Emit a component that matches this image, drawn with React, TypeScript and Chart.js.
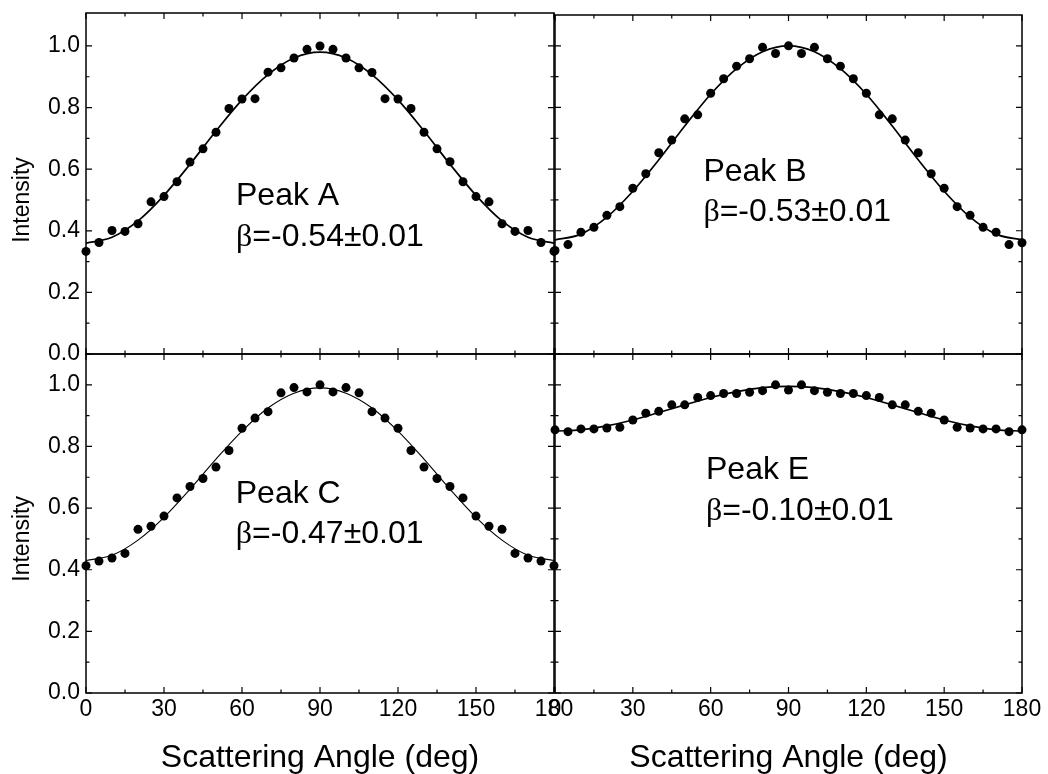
import React, { useEffect, useRef } from "react";
import { Chart, registerables } from "chart.js";

Chart.register(...registerables);

// ---------- data ----------
const ANGLES = [0, 5, 10, 15, 20, 25, 30, 35, 40, 45, 50, 55, 60, 65, 70, 75, 80, 85, 90,
  95, 100, 105, 110, 115, 120, 125, 130, 135, 140, 145, 150, 155, 160, 165, 170, 175, 180];
const FIT_ANGLES = [0, 10, 20, 30, 40, 50, 60, 70, 80, 90, 100, 110, 120, 130, 140, 150, 160, 170, 180];

const PEAK_A = [0.333, 0.362, 0.401, 0.398, 0.423, 0.494, 0.511, 0.559, 0.623, 0.666, 0.720, 0.797, 0.828,
  0.829, 0.915, 0.929, 0.961, 0.989, 1.0, 0.989, 0.961, 0.929, 0.914, 0.829, 0.828, 0.797, 0.720, 0.666,
  0.624, 0.559, 0.511, 0.494, 0.423, 0.398, 0.401, 0.362, 0.333];
const FIT_A = [0.36, 0.379, 0.432, 0.515, 0.616, 0.724, 0.825, 0.907, 0.961, 0.98, 0.961, 0.907, 0.825,
  0.724, 0.616, 0.515, 0.432, 0.379, 0.36];

const PEAK_B = [0.336, 0.355, 0.395, 0.411, 0.450, 0.478, 0.538, 0.585, 0.653, 0.694, 0.763, 0.776, 0.846,
  0.893, 0.934, 0.958, 0.995, 0.975, 1.0, 0.975, 0.995, 0.958, 0.934, 0.893, 0.846, 0.776, 0.763, 0.694,
  0.653, 0.585, 0.538, 0.478, 0.450, 0.411, 0.395, 0.355, 0.361];
const FIT_B = [0.37, 0.389, 0.444, 0.528, 0.630, 0.740, 0.843, 0.926, 0.981, 1.0, 0.981, 0.926, 0.843,
  0.740, 0.630, 0.528, 0.444, 0.389, 0.37];

const PEAK_C = [0.413, 0.428, 0.438, 0.453, 0.531, 0.541, 0.574, 0.633, 0.670, 0.696, 0.733, 0.787, 0.859,
  0.892, 0.913, 0.974, 0.991, 0.977, 1.0, 0.977, 0.991, 0.974, 0.913, 0.892, 0.859, 0.787, 0.733, 0.696,
  0.670, 0.633, 0.574, 0.541, 0.531, 0.453, 0.438, 0.428, 0.413];
const FIT_C = [0.43, 0.447, 0.496, 0.570, 0.661, 0.759, 0.850, 0.925, 0.973, 0.99, 0.973, 0.925, 0.850,
  0.759, 0.661, 0.570, 0.496, 0.447, 0.43];

const PEAK_E = [0.854, 0.848, 0.857, 0.857, 0.860, 0.862, 0.886, 0.908, 0.914, 0.935, 0.935, 0.959, 0.965,
  0.972, 0.972, 0.976, 0.981, 1.0, 0.983, 1.0, 0.981, 0.976, 0.972, 0.972, 0.965, 0.959, 0.935, 0.935,
  0.914, 0.908, 0.886, 0.862, 0.860, 0.857, 0.857, 0.848, 0.854];
const FIT_E = [0.85, 0.854, 0.867, 0.886, 0.910, 0.935, 0.959, 0.978, 0.991, 0.995, 0.991, 0.978, 0.959,
  0.935, 0.910, 0.886, 0.867, 0.854, 0.85];

const X_MAJOR = [0, 30, 60, 90, 120, 150, 180];
const X_MINOR = [15, 45, 75, 105, 135, 165];
const Y_MAJOR = [0, 0.2, 0.4, 0.6, 0.8, 1.0];
const Y_MINOR = [0.1, 0.3, 0.5, 0.7, 0.9];

const PEAK_NAMES = ["Peak A", "Peak B", "Peak C", "Peak E"];
const BETA_TEXTS = ["=-0.54\u00b10.01", "=-0.53\u00b10.01", "=-0.47\u00b10.01", "=-0.10\u00b10.01"];

const X_TITLE = "Scattering Angle (deg)";
const Y_TITLE = "Intensity";

// ---------- layout ----------
const W = 1048;
const H = 774;
const SANS = '"Liberation Sans", Arial, Helvetica, sans-serif';
const SERIF = '"Liberation Serif", "DejaVu Serif", serif';

type Panel = {
  points: number[];
  fit: number[];
  name: string;
  beta: string;
  area: { left: number; top: number; right: number; bottom: number };
  yMax: number;
  showY: boolean;
  showX: boolean;
  fitWidth: number;
  label: { x: number; y1: number; y2: number };
};

const PANELS: Panel[] = [
  {
    points: PEAK_A, fit: FIT_A, name: PEAK_NAMES[0], beta: BETA_TEXTS[0],
    area: { left: 86, top: 13, right: 554, bottom: 354 }, yMax: 1.107,
    showY: true, showX: false, fitWidth: 1.7, label: { x: 57.7, y1: 0.485, y2: 0.352 },
  },
  {
    points: PEAK_B, fit: FIT_B, name: PEAK_NAMES[1], beta: BETA_TEXTS[1],
    area: { left: 555, top: 15, right: 1022, bottom: 354 }, yMax: 1.1,
    showY: false, showX: false, fitWidth: 1.7, label: { x: 57.2, y1: 0.56, y2: 0.43 },
  },
  {
    points: PEAK_C, fit: FIT_C, name: PEAK_NAMES[2], beta: BETA_TEXTS[2],
    area: { left: 86, top: 354, right: 554, bottom: 693 }, yMax: 1.1,
    showY: true, showX: true, fitWidth: 1.1, label: { x: 57.6, y1: 0.616, y2: 0.487 },
  },
  {
    points: PEAK_E, fit: FIT_E, name: PEAK_NAMES[3], beta: BETA_TEXTS[3],
    area: { left: 555, top: 354, right: 1022, bottom: 693 }, yMax: 1.1,
    showY: false, showX: true, fitWidth: 1.7, label: { x: 58.2, y1: 0.694, y2: 0.561 },
  },
];

function makePlugin(p: Panel) {
  return {
    id: "frameAndText",
    beforeDatasetsDraw(chart: any) {
      const { ctx, chartArea: a, scales } = chart;
      const xs = scales.x;
      const ys = scales.y;
      ctx.save();
      ctx.strokeStyle = "#000";
      ctx.lineWidth = 1.5;
      ctx.strokeRect(a.left, a.top, a.right - a.left, a.bottom - a.top);
      ctx.lineWidth = 1.2;
      ctx.beginPath();
      const xt = (vals: number[], len: number) => {
        for (const v of vals) {
          const px = xs.getPixelForValue(v);
          ctx.moveTo(px, a.bottom);
          ctx.lineTo(px, a.bottom - len);
          ctx.moveTo(px, a.top);
          ctx.lineTo(px, a.top + len);
        }
      };
      const yt = (vals: number[], len: number) => {
        for (const v of vals) {
          const py = ys.getPixelForValue(v);
          ctx.moveTo(a.left, py);
          ctx.lineTo(a.left + len, py);
          ctx.moveTo(a.right, py);
          ctx.lineTo(a.right - len, py);
        }
      };
      xt(X_MAJOR, 6);
      xt(X_MINOR, 3.5);
      yt(Y_MAJOR, 6);
      yt(Y_MINOR, 3.5);
      ctx.stroke();
      ctx.restore();
    },
    afterDatasetsDraw(chart: any) {
      const { ctx, scales } = chart;
      const xs = scales.x;
      const ys = scales.y;
      ctx.save();
      ctx.fillStyle = "#000";
      ctx.textAlign = "left";
      ctx.textBaseline = "alphabetic";
      const lx = xs.getPixelForValue(p.label.x);
      ctx.font = `32px ${SANS}`;
      ctx.fillText(p.name, lx, ys.getPixelForValue(p.label.y1));
      const by = ys.getPixelForValue(p.label.y2);
      ctx.font = `32px ${SERIF}`;
      ctx.fillText("\u03b2", lx, by);
      const bw = ctx.measureText("\u03b2").width;
      ctx.font = `32px ${SANS}`;
      ctx.fillText(p.beta, lx + bw, by);

      if (p.showY) {
        ctx.translate(23, ys.getPixelForValue(0.5));
        ctx.rotate(-Math.PI / 2);
        ctx.textAlign = "center";
        ctx.textBaseline = "middle";
        ctx.font = `23px ${SANS}`;
        ctx.fillText(Y_TITLE, 0, 0);
      }
      ctx.restore();
    },
  };
}

function makeConfig(p: Panel): any {
  const zeroPad = (s: any) => {
    s.paddingLeft = 0;
    s.paddingRight = 0;
    s.paddingTop = 0;
    s.paddingBottom = 0;
  };
  return {
    type: "scatter",
    data: {
      datasets: [
        {
          type: "scatter",
          data: ANGLES.map((a, i) => ({ x: a, y: p.points[i] })),
          backgroundColor: "#000",
          borderColor: "#000",
          borderWidth: 0,
          pointRadius: 4.5,
          pointHoverRadius: 4.5,
          clip: false,
          order: 1,
        },
        {
          type: "line",
          data: FIT_ANGLES.map((a, i) => ({ x: a, y: p.fit[i] })),
          borderColor: "#000",
          borderWidth: p.fitWidth,
          pointRadius: 0,
          fill: false,
          cubicInterpolationMode: "monotone",
          order: 2,
        },
      ],
    },
    options: {
      responsive: false,
      animation: false,
      devicePixelRatio: 1,
      events: [],
      layout: {
        autoPadding: false,
        padding: {
          left: p.showY ? 0 : p.area.left,
          top: p.area.top,
          right: W - p.area.right,
          bottom: p.showX ? 0 : H - p.area.bottom,
        },
      },
      plugins: { legend: { display: false }, tooltip: { enabled: false } },
      scales: {
        x: {
          type: "linear",
          position: "bottom",
          min: 0,
          max: 180,
          display: p.showX,
          grid: { display: false, drawTicks: false },
          border: { display: false },
          ticks: {
            stepSize: 30,
            autoSkip: false,
            maxRotation: 0,
            minRotation: 0,
            includeBounds: false,
            padding: 3,
            color: "#000",
            font: { family: SANS, size: 23 },
            callback: (v: number) => String(v),
          },
          title: {
            display: true,
            text: X_TITLE,
            color: "#000",
            font: { family: SANS, size: 32, lineHeight: 1 },
            padding: { top: 0, bottom: 0 },
          },
          afterFit: (s: any) => {
            s.height = p.showX ? H - p.area.bottom : 0;
            zeroPad(s);
          },
        },
        y: {
          type: "linear",
          position: "left",
          min: 0,
          max: p.yMax,
          display: p.showY,
          grid: { display: false, drawTicks: false },
          border: { display: false },
          ticks: {
            stepSize: 0.2,
            includeBounds: false,
            padding: 6,
            color: "#000",
            font: { family: SANS, size: 23 },
            callback: (v: number) => (v > 1.05 ? "" : Number(v).toFixed(1)),
          },
          afterFit: (s: any) => {
            s.width = p.showY ? p.area.left : 0;
            zeroPad(s);
          },
        },
      },
    },
    plugins: [makePlugin(p)],
  };
}

export default function App() {
  const r0 = useRef<HTMLCanvasElement>(null);
  const r1 = useRef<HTMLCanvasElement>(null);
  const r2 = useRef<HTMLCanvasElement>(null);
  const r3 = useRef<HTMLCanvasElement>(null);

  useEffect(() => {
    const refs = [r0, r1, r2, r3];
    const charts = PANELS.map((p, i) => new Chart(refs[i].current as HTMLCanvasElement, makeConfig(p)));
    return () => {
      charts.forEach((c) => c.destroy());
    };
  }, []);

  const canvasStyle: React.CSSProperties = { position: "absolute", left: 0, top: 0, width: W, height: H };
  return (
    <div style={{ position: "absolute", left: 0, top: 0, width: W, height: H, background: "#fff", overflow: "hidden" }}>
      <canvas ref={r0} width={W} height={H} style={canvasStyle} />
      <canvas ref={r1} width={W} height={H} style={canvasStyle} />
      <canvas ref={r2} width={W} height={H} style={canvasStyle} />
      <canvas ref={r3} width={W} height={H} style={canvasStyle} />
    </div>
  );
}
